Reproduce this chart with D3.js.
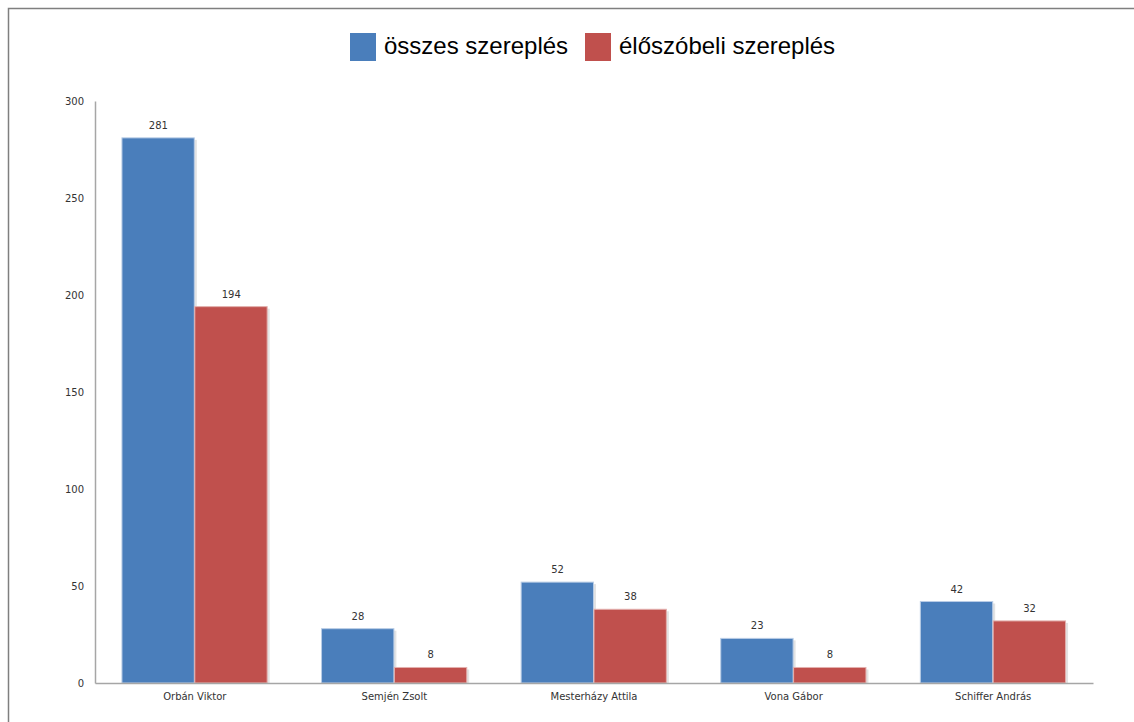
<!DOCTYPE html>
<html>
<head>
<meta charset="utf-8">
<script src="https://cdn.jsdelivr.net/npm/d3@7"></script>
<style>
  body { margin: 0; background: #fff; }
  svg { display: block; }
</style>
</head>
<body>
<svg id="chart" width="1134" height="722"></svg>
<script>
// data
const categories = ["Orbán Viktor", "Semjén Zsolt", "Mesterházy Attila", "Vona Gábor", "Schiffer András"];
const seriesNames = ["összes szereplés", "élőszóbeli szereplés"];
const osszes = [281, 28, 52, 23, 42];
const eloszobeli = [194, 8, 38, 8, 32];
const yTicks = [0, 50, 100, 150, 200, 250, 300];
const colors = ["#4a7ebb", "#c0504d"];

const svg = d3.select("#chart");

// outer frame (only left and top edges show)
svg.append("rect").attr("x", 8.5).attr("y", 8.5)
    .attr("width", 1200).attr("height", 800)
    .attr("fill", "none").attr("stroke", "#7f7f7f").attr("stroke-width", 1.5);

const plotLeft = 95, plotRight = 1093, plotTop = 101, plotBottom = 683;

const x = d3.scaleBand().domain(categories).range([plotLeft, plotRight]).paddingInner(0.27).paddingOuter(0.135);
const xs = d3.scaleBand().domain([0, 1]).range([0, x.bandwidth()]);
const y = d3.scaleLinear().domain([0, 300]).range([plotBottom, plotTop]);

// y axis
const yAxis = svg.append("g").attr("transform", `translate(${plotLeft},0)`)
    .call(d3.axisLeft(y).tickValues(yTicks).tickSize(0).tickPadding(11));
yAxis.select(".domain").attr("stroke", "#a6a6a6").attr("stroke-width", 1.5);
yAxis.selectAll("text").style("font-family", "DejaVu Sans").style("font-size", "10px").attr("fill", "#333");

const rows = categories.map((c, i) => ({ cat: c, vals: [osszes[i], eloszobeli[i]] }));

const groups = svg.selectAll("g.grp").data(rows).enter().append("g")
    .attr("class", "grp")
    .attr("transform", d => `translate(${x(d.cat)},0)`);

const bars = groups.selectAll("g.bar").data(d => d.vals.map((v, s) => ({ v, s }))).enter().append("g");

// soft shadow on the right
bars.append("rect")
    .attr("x", d => xs(d.s) + 2)
    .attr("y", d => y(d.v) + 2)
    .attr("width", xs.bandwidth())
    .attr("height", d => plotBottom - y(d.v) - 2)
    .attr("fill", "#e3e3e3");

bars.append("rect")
    .attr("x", d => xs(d.s))
    .attr("y", d => y(d.v))
    .attr("width", xs.bandwidth() - 0.5)
    .attr("height", d => plotBottom - y(d.v))
    .attr("fill", d => colors[d.s])
    .attr("stroke", d => d.s === 0 ? "#b9cde6" : "#e3b0ae")
    .attr("stroke-width", 1);

bars.append("text")
    .attr("x", d => xs(d.s) + xs.bandwidth() / 2)
    .attr("y", d => y(d.v) - 9)
    .attr("text-anchor", "middle")
    .style("font-family", "DejaVu Sans").style("font-size", "10px")
    .attr("fill", "#333")
    .text(d => d.v);

// x axis
const xAxis = svg.append("g").attr("transform", `translate(0,${plotBottom})`)
    .call(d3.axisBottom(x).tickSize(0).tickPadding(10));
xAxis.select(".domain").attr("stroke", "#a6a6a6").attr("stroke-width", 1.5);
xAxis.selectAll("text").style("font-family", "DejaVu Sans").style("font-size", "10px").attr("fill", "#333");

// legend
const legendX = [350, 585];
const legend = svg.selectAll("g.leg").data(seriesNames).enter().append("g")
    .attr("transform", (d, i) => `translate(${legendX[i]},33)`);
legend.append("rect").attr("width", 26).attr("height", 28)
    .attr("fill", (d, i) => colors[i]);
legend.append("text").attr("x", 34).attr("y", 21)
    .style("font-family", "Liberation Sans, Arial, sans-serif").style("font-size", "24px")
    .attr("fill", "#000")
    .text(d => d);
</script>
</body>
</html>
